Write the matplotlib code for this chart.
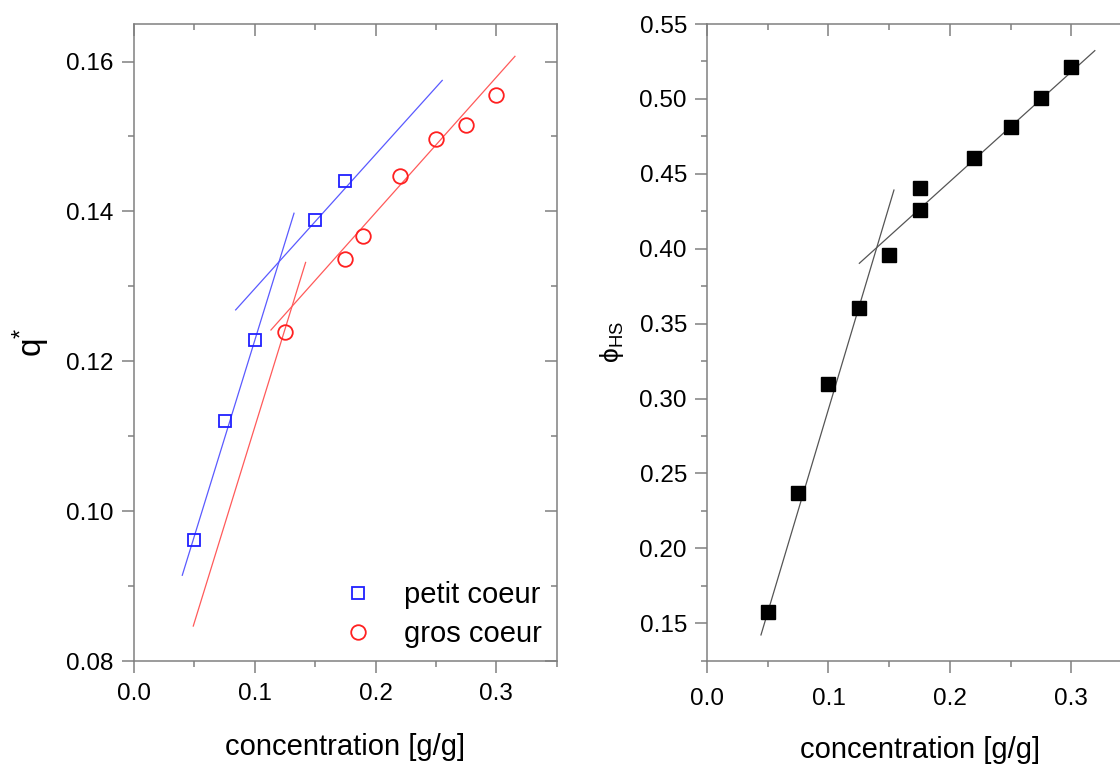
import matplotlib
matplotlib.use('Agg')
import matplotlib.pyplot as plt
import numpy as np
from matplotlib.ticker import MultipleLocator, FormatStrFormatter

plt.rcParams['font.family'] = ['Liberation Sans', 'DejaVu Sans']
plt.rcParams['mathtext.fontset'] = 'custom'
plt.rcParams['mathtext.rm'] = 'Liberation Sans'
plt.rcParams['mathtext.it'] = 'Liberation Sans:italic'

# left panel: q* vs concentration
petit_x = [0.05, 0.075, 0.1, 0.15, 0.175]
petit_y = [0.0962, 0.1121, 0.1229, 0.1389, 0.1441]
gros_x = [0.125, 0.175, 0.19, 0.22, 0.25, 0.275, 0.3]
gros_y = [0.1239, 0.1337, 0.1367, 0.1447, 0.1497, 0.1515, 0.1555]

# fitted lines: slope, intercept, x range
petit_fit_slope = [0.522, 0.179]
petit_fit_icpt = [0.0706, 0.1118]
petit_fit_range = [(0.040, 0.1325), (0.0842, 0.2552)]
gros_fit_slope = [0.5215, 0.1807]
gros_fit_icpt = [0.0591, 0.1037]
gros_fit_range = [(0.0491, 0.1421), (0.1134, 0.3154)]

# right panel: phi_HS vs concentration
phi_x = [0.05, 0.075, 0.1, 0.125, 0.15, 0.175, 0.175, 0.22, 0.25, 0.275, 0.3]
phi_y = [0.1574, 0.237, 0.3094, 0.3607, 0.3957, 0.4258, 0.4405, 0.4606, 0.4811, 0.5007, 0.5212]
phi_fit_slope = [2.712, 0.732]
phi_fit_icpt = [0.0218, 0.2985]
phi_fit_range = [(0.0444, 0.1539), (0.1254, 0.3193)]

spine_col = '#808080'


def style_axes(ax, ymaj, ymin, yfmt, xpad):
    ax.set_xlim(0, 0.35)
    ax.xaxis.set_major_locator(MultipleLocator(0.1))
    ax.xaxis.set_minor_locator(MultipleLocator(0.05))
    ax.xaxis.set_major_formatter(FormatStrFormatter('%.1f'))
    ax.yaxis.set_major_locator(MultipleLocator(ymaj))
    ax.yaxis.set_minor_locator(MultipleLocator(ymin))
    ax.yaxis.set_major_formatter(FormatStrFormatter(yfmt))
    for s in ax.spines.values():
        s.set_color(spine_col)
        s.set_linewidth(1.1)
    ax.tick_params(which='both', direction='out', color=spine_col, width=1.1,
                   labelsize=17.5)
    ax.tick_params(which='major', length=8.5)
    ax.tick_params(which='minor', length=4.5)
    ax.tick_params(axis='y', pad=6)
    ax.tick_params(axis='x', pad=xpad)
    # inward ticks on top and right, no labels
    top = ax.secondary_xaxis('top')
    top.xaxis.set_major_locator(MultipleLocator(0.1))
    top.xaxis.set_minor_locator(MultipleLocator(0.05))
    top.tick_params(which='both', direction='in', color=spine_col, width=1.1,
                    labeltop=False)
    top.tick_params(which='major', length=8.5)
    top.tick_params(which='minor', length=4.5)
    top.spines['top'].set_visible(False)
    right = ax.secondary_yaxis('right')
    right.yaxis.set_major_locator(MultipleLocator(ymaj))
    right.yaxis.set_minor_locator(MultipleLocator(ymin))
    right.tick_params(which='both', direction='in', color=spine_col, width=1.1,
                      labelright=False)
    right.tick_params(which='major', length=8.5)
    right.tick_params(which='minor', length=4.5)
    right.spines['right'].set_visible(False)


fig = plt.figure(figsize=(11.2, 7.65), dpi=100)
ax1 = fig.add_axes([0.1196, 0.1355, 0.3775, 0.8331])
ax2 = fig.add_axes([0.6313, 0.1363, 0.3795, 0.8323])

# left panel
for b, a, (x0, x1) in zip(petit_fit_slope, petit_fit_icpt, petit_fit_range):
    xs = np.array([x0, x1])
    ax1.plot(xs, a + b * xs, color='#5a5aff', lw=0.9)
for b, a, (x0, x1) in zip(gros_fit_slope, gros_fit_icpt, gros_fit_range):
    xs = np.array([x0, x1])
    ax1.plot(xs, a + b * xs, color='#ff5a5a', lw=0.9)
ax1.plot(petit_x, petit_y, 's', ms=9, mfc='none', mec='#2020ff', mew=1.3,
         label='petit coeur')
ax1.plot(gros_x, gros_y, 'o', ms=10.5, mfc='none', mec='#ff2020', mew=1.3,
         label='gros coeur')
ax1.set_ylim(0.08, 0.165)
style_axes(ax1, 0.02, 0.01, '%.2f', 7)
ax1.set_xlabel('concentration [g/g]', fontsize=21, labelpad=20)
ax1.set_ylabel(r'q$^{*}$', fontsize=24, labelpad=10)
ax1.legend(loc='lower right', frameon=False, fontsize=21, handletextpad=0.55,
           labelspacing=0.38, borderaxespad=0.05, handlelength=2.0,
           bbox_to_anchor=(0.995, 0.0))

# right panel
for b, a, (x0, x1) in zip(phi_fit_slope, phi_fit_icpt, phi_fit_range):
    xs = np.array([x0, x1])
    ax2.plot(xs, a + b * xs, color='#555555', lw=0.9)
ax2.plot(phi_x, phi_y, 's', ms=10, color='black')
ax2.set_ylim(0.125, 0.55)
style_axes(ax2, 0.05, 0.025, '%.2f', 11)
ax2.set_xlabel('concentration [g/g]', fontsize=21, labelpad=19)
ax2.set_ylabel('\u03d5$_{\\mathrm{HS}}$', fontsize=19, labelpad=10)

fig.savefig('out.png', dpi=100)
